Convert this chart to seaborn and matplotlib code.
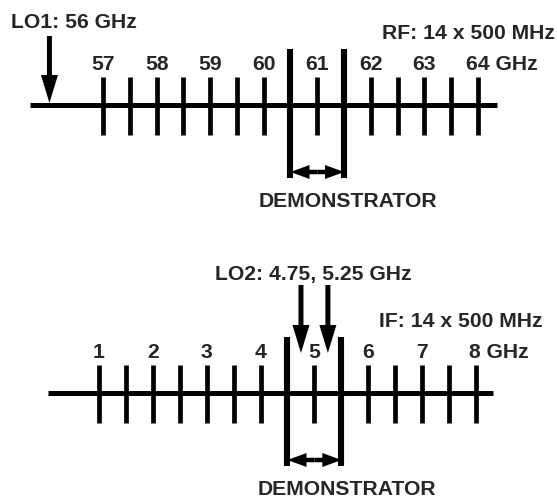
import matplotlib
matplotlib.use("Agg")
import matplotlib.pyplot as plt
import seaborn as sns

# --- RF band (GHz) ---
rf_ticks = [57, 57.5, 58, 58.5, 59, 59.5, 60, 61, 62, 62.5, 63, 63.5, 64]
rf_labels = [57, 58, 59, 60, 61, 62, 63, 64]
rf_demo = [60.5, 61.5]
rf_span = [55.63, 64.36]
lo1 = [56]

# --- IF band (GHz) ---
if_ticks = [1, 1.5, 2, 2.5, 3, 3.5, 4, 5, 6, 6.5, 7, 7.5, 8]
if_labels = [1, 2, 3, 4, 5, 6, 7, 8]
if_demo = [4.5, 5.5]
if_span = [0.05, 8.32]
lo2 = [4.75, 5.25]

sns.set_theme(style="white")
plt.rcParams["font.family"] = ["Liberation Sans", "DejaVu Sans"]
plt.rcParams["font.weight"] = "bold"
FS = 15.2
W_PX = 557


def draw_band(ax, xlim, ylim, y0, ticks, labels, demo, span, los, lo_top, lo_tip,
              unit_offset):
    ax.set_xlim(*xlim)
    ax.set_ylim(*ylim)
    ax.axis("off")
    px = W_PX / (xlim[1] - xlim[0])  # pixels per GHz

    # baseline
    sns.lineplot(x=span, y=[y0, y0], ax=ax, color="black", lw=3.6,
                 solid_capstyle="butt", legend=False)
    # 250 MHz grid of channel edges
    ax.vlines(ticks, y0 - 28, y0 + 30, color="black", lw=3.4, capstyle="butt")
    # demonstrator band edges
    ax.vlines(demo, y0 - 56, y0 + 73, color="black", lw=4.4, capstyle="butt")

    # double arrow between demonstrator edges
    mid = (demo[0] + demo[1]) / 2
    for end in demo:
        ax.arrow(mid, y0 + 67, end - mid, 0, width=4.5, head_width=14,
                 head_length=19 / px, length_includes_head=True,
                 color="black", lw=0)

    # LO arrows
    for lo in los:
        ax.arrow(lo, lo_top, 0, lo_tip - lo_top, width=5 / px,
                 head_width=17 / px, head_length=28,
                 length_includes_head=True, color="black", lw=0)

    # tick numbers
    for v in labels[:-1]:
        ax.text(v, y0 - 35, str(v), ha="center", va="baseline", fontsize=FS,
                fontweight="bold")
    ax.annotate(f"{labels[-1]} GHz", xy=(labels[-1], y0 - 35),
                xytext=(unit_offset, 0), textcoords="offset pixels",
                ha="left", va="baseline", fontsize=FS, fontweight="bold")


fig = plt.figure(figsize=(5.57, 4.98), dpi=100)
ax_top = fig.add_axes([0, 0.5, 1, 0.5])
ax_bot = fig.add_axes([0, 0, 1, 0.5])

draw_band(ax_top, (55.077, 65.475), (249, 0), 105, rf_ticks, rf_labels,
          rf_demo, rf_span, lo1, 36, 103, -12)
ax_top.text(55.28, 28, "LO1: 56 GHz", ha="left", va="baseline", fontsize=FS,
            fontweight="bold")
ax_top.text(65.44, 39, "RF: 14 x 500 MHz", ha="right", va="baseline",
            fontsize=FS, fontweight="bold")
ax_top.text(61.57, 207, "DEMONSTRATOR", ha="center", va="baseline",
            fontsize=FS, fontweight="bold")

draw_band(ax_bot, (-0.838, 9.504), (498, 249), 393, if_ticks, if_labels,
          if_demo, if_span, lo2, 285, 353, -7)
ax_bot.text(4.98, 280, "LO2: 4.75, 5.25 GHz", ha="center", va="baseline",
            fontsize=FS, fontweight="bold")
ax_bot.text(9.24, 327, "IF: 14 x 500 MHz", ha="right", va="baseline",
            fontsize=FS, fontweight="bold")
ax_bot.text(5.60, 495, "DEMONSTRATOR", ha="center", va="baseline",
            fontsize=FS, fontweight="bold")

fig.savefig("out.png", dpi=100, facecolor="white")
